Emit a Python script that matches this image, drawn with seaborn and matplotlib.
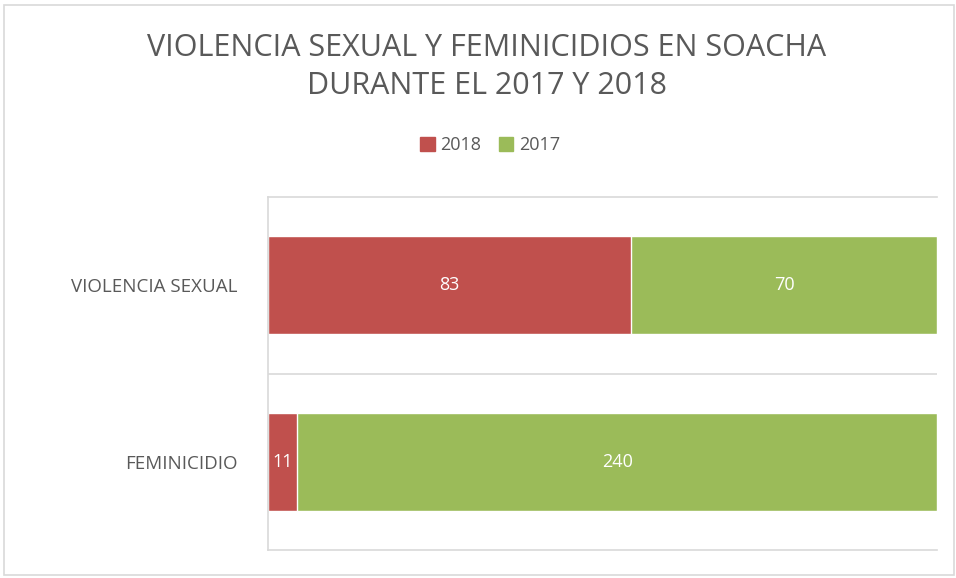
import pandas as pd
import matplotlib
matplotlib.use("Agg")
import matplotlib.pyplot as plt
import seaborn as sns
from matplotlib.patches import Rectangle, Patch

# data
categories = ["VIOLENCIA SEXUAL", "FEMINICIDIO"]
values_2018 = [83, 11]
values_2017 = [70, 240]

red = "#c0504d"
green = "#9bbb59"
grey_text = "#595959"
grid_col = "#d9d9d9"

df = pd.DataFrame({"cat": categories, "y2018": values_2018, "y2017": values_2017})
df["total"] = df["y2018"] + df["y2017"]
df["p2018"] = df["y2018"] / df["total"] * 100
df["p_all"] = 100.0

sns.set_theme(style="white")
plt.rcParams["font.family"] = ["Open Sans", "DejaVu Sans"]

fig = plt.figure(figsize=(9.56, 5.78), dpi=100)
ax = fig.add_axes([268 / 956, 1 - 550 / 578, (937 - 268) / 956, (550 - 197) / 578])

# stacked 100% bars: full green bar then red share on top
sns.barplot(data=df, y="cat", x="p_all", color=green, orient="h", width=0.555,
            ax=ax, saturation=1)
sns.barplot(data=df, y="cat", x="p2018", color=red, orient="h", width=0.555,
            ax=ax, saturation=1)

ax.set_xlim(0, 100)
ax.set_ylim(1.5, -0.5)
ax.set_xlabel("")
ax.set_ylabel("")
ax.set_xticks([])
ax.tick_params(axis="y", length=0, pad=22)
ax.set_yticklabels(categories, fontsize=13.5, color=grey_text)

for s in ["top", "bottom", "left"]:
    ax.spines[s].set_color(grid_col)
    ax.spines[s].set_linewidth(1.2)
ax.spines["right"].set_visible(False)
ax.axhline(0.5, color=grid_col, lw=1.2)

# value labels
for i, row in df.iterrows():
    ax.text(row["p2018"] / 2, i, str(row["y2018"]), ha="center", va="center",
            color="white", fontsize=13)
    ax.text(row["p2018"] + (100 - row["p2018"]) / 2, i, str(row["y2017"]),
            ha="center", va="center", color="white", fontsize=13)

fig.text(487 / 956, 1 - 67 / 578, "VIOLENCIA SEXUAL Y FEMINICIDIOS EN SOACHA\nDURANTE EL 2017 Y 2018",
         ha="center", va="center", fontsize=22, color=grey_text, linespacing=1.35)

handles = [Patch(color=red, label="2018"), Patch(color=green, label="2017")]
fig.legend(handles=handles, loc="center", bbox_to_anchor=(490 / 956, 1 - 145 / 578),
           ncol=2, frameon=False, fontsize=13, handlelength=0.8, handleheight=0.8,
           handletextpad=0.3, columnspacing=1.0, labelcolor=grey_text)

fig.patches.append(Rectangle((4 / 956, 3 / 578), 950 / 956, 570 / 578,
                             transform=fig.transFigure, fill=False,
                             edgecolor=grid_col, lw=1.2))

fig.savefig("out.png", dpi=100)
